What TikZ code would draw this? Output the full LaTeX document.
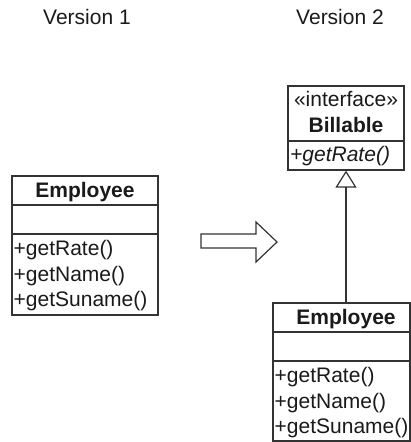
\documentclass[tikz,border=0pt]{standalone}
\usepackage{fontspec}
\setmainfont{Liberation Sans}
\usetikzlibrary{arrows.meta}
\definecolor{linec}{HTML}{333333}
\definecolor{textc}{HTML}{1A1A1A}
\begin{document}
\begin{tikzpicture}[x=1pt,y=-1pt,
  umlbox/.style={draw=linec, line width=1.2pt, rectangle, inner sep=0pt, fill=white},
  divline/.style={draw=linec, line width=1.2pt},
  txt/.style={inner sep=0pt, anchor=base, text=textc, font=\fontsize{21}{25}\selectfont},
  meth/.style={txt, anchor=base west},
  title/.style={txt, font=\fontsize{21}{25}\selectfont\bfseries},
  inherit/.style={draw=linec, line width=1.2pt, -{Triangle[open, length=17pt, width=21pt, line width=1.2pt]}},
  bigarrow/.style={draw=linec, line width=1.2pt, line join=miter, fill=white}
]
\useasboundingbox (0,0) rectangle (411,442);
\clip (0,0) rectangle (411,442);

% headings
\node[txt] (v1) at (87,24) {Version 1};
\node[txt] (v2) at (340,24) {Version 2};

% Version 1 Employee
\node[umlbox, minimum width=146pt, minimum height=139pt] (emp1) at (85,245.5) {};
\draw[divline] (emp1.west |- 0,205) -- (emp1.east |- 0,205);
\draw[divline] (emp1.west |- 0,234) -- (emp1.east |- 0,234);
\node[title] (e1t) at (85,197.5) {Employee};
\node[meth] (e1m1) at (13.5,255.5) {+getRate()};
\node[meth] (e1m2) at (13.5,281) {+getName()};
\node[meth] (e1m3) at (13.5,306.5) {+getSuname()};

% big arrow
\draw[bigarrow] (201,234) -- (256,234) -- (256,222) -- (277,242) -- (256,262) -- (256,248) -- (201,248) -- cycle;

% Billable interface
\node[umlbox, minimum width=116pt, minimum height=84pt] (bill) at (346,128) {};
\draw[divline] (bill.west |- 0,141) -- (bill.east |- 0,141);
\node[txt] (bst) at (346,106) {«interface»};
\node[title] (bt) at (346,132.5) {Billable};
\node[meth, font=\fontsize{21}{25}\selectfont\itshape] (bm1) at (290,161.5) {+getRate()};

% Version 2 Employee
\node[umlbox, minimum width=137pt, minimum height=138pt] (emp2) at (341.5,372) {};
\draw[divline] (emp2.west |- 0,332) -- (emp2.east |- 0,332);
\draw[divline] (emp2.west |- 0,361) -- (emp2.east |- 0,361);
\node[title] (e2t) at (346,324.5) {Employee};
\node[meth] (e2m1) at (274.5,382.5) {+getRate()};
\node[meth] (e2m2) at (274.5,408) {+getName()};
\node[meth] (e2m3) at (274.5,433.5) {+getSuname()};

% realization
\draw[inherit] (emp2.north -| bill.south) -- (bill.south);
\end{tikzpicture}
\end{document}
